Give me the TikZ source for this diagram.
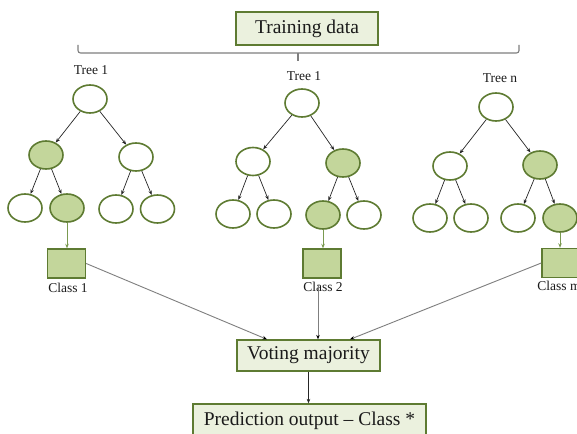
\documentclass[tikz,border=0pt]{standalone}
\usepackage{fontspec}
\setmainfont{Liberation Serif}
\usetikzlibrary{shapes.geometric,arrows.meta}
\definecolor{edgegreen}{HTML}{5E7B32}
\definecolor{fillgreen}{HTML}{C3D69B}
\definecolor{boxfill}{HTML}{EBF1DE}
\definecolor{linegray}{HTML}{7F7F7F}
\definecolor{leafline}{HTML}{7A9A50}
\definecolor{txt}{HTML}{1A1A1A}
\tikzset{
  nd/.style={ellipse,draw=edgegreen,line width=1.6pt,minimum width=34pt,minimum height=28pt,inner sep=0pt,fill=white},
  gnd/.style={nd,fill=fillgreen},
  sq/.style={rectangle,draw=edgegreen,line width=1.4pt,fill=fillgreen,minimum width=38pt,minimum height=29pt,inner sep=0pt},
  bigbox/.style={rectangle,draw=edgegreen,line width=1.3pt,fill=boxfill,inner sep=0pt,text=txt,font=\fontsize{19.5}{22}\selectfont},
  lbl/.style={text=txt,font=\fontsize{13.5}{16}\selectfont,inner sep=0pt},
  tedge/.style={draw=black!85,line width=0.7pt,-{Stealth[length=4.5pt,width=3.5pt]}},
  cedge/.style={draw=leafline,line width=0.9pt,-{Stealth[length=4.5pt,width=3.5pt]}},
  vedge/.style={draw=linegray,line width=0.9pt,-{Stealth[length=4.5pt,width=3.5pt,color=black]}}
}
\begin{document}
\begin{tikzpicture}[x=1pt,y=-1pt]
\clip (0,0) rectangle (577,433);
\fill[white] (0,0) rectangle (577,433);

% training data
\node[bigbox,minimum width=142pt,minimum height=33pt] (train) at (307,28.5) {Training data};
\draw[linegray,line width=1.1pt,rounded corners=2.5pt] (78,45) -- (78,53) -- (519,53) -- (519,45);
\draw[linegray,line width=1.1pt] (298,53) -- (298,61);

% tree 1
\node[lbl] (t1) at (91,70) {Tree 1};
\node[nd] (r1) at (90,99) {};
\node[gnd] (a1) at (46,155) {};
\node[nd] (b1) at (136,157) {};
\node[nd] (a11) at (25,208) {};
\node[gnd] (a12) at (67,208) {};
\node[nd] (b11) at (116,209) {};
\node[nd] (b12) at (157.5,209) {};
\node[sq] (c1) at (66.5,263.5) {};
\node[lbl] (l1) at (68,288) {Class 1};
\draw[tedge] (r1) -- (a1);
\draw[tedge] (r1) -- (b1);
\draw[tedge] (a1) -- (a11);
\draw[tedge] (a1) -- (a12);
\draw[tedge] (b1) -- (b11);
\draw[tedge] (b1) -- (b12);
\draw[cedge] (a12.south) -- (a12.south |- c1.north);

% tree 2
\node[lbl] (t2) at (304,76) {Tree 1};
\node[nd] (r2) at (302,103) {};
\node[nd] (a2) at (253,161.5) {};
\node[gnd] (b2) at (343,163) {};
\node[nd] (a21) at (233,214) {};
\node[nd] (a22) at (274,214) {};
\node[gnd] (b21) at (323,215) {};
\node[nd] (b22) at (364,215) {};
\node[sq] (c2) at (322,263.5) {};
\node[lbl] (l2) at (323,287) {Class 2};
\draw[tedge] (r2) -- (a2);
\draw[tedge] (r2) -- (b2);
\draw[tedge] (a2) -- (a21);
\draw[tedge] (a2) -- (a22);
\draw[tedge] (b2) -- (b21);
\draw[tedge] (b2) -- (b22);
\draw[cedge] (b21.south) -- (b21.south |- c2.north);

% tree n
\node[lbl] (t3) at (500,78) {Tree n};
\node[nd] (r3) at (496,107) {};
\node[nd] (a3) at (450,166) {};
\node[gnd] (b3) at (540,165) {};
\node[nd] (a31) at (430,218) {};
\node[nd] (a32) at (471,218) {};
\node[nd] (b31) at (518,218) {};
\node[gnd] (b32) at (560,218) {};
\node[sq] (c3) at (561,263) {};
\node[lbl] (l3) at (559,286) {Class m};
\draw[tedge] (r3) -- (a3);
\draw[tedge] (r3) -- (b3);
\draw[tedge] (a3) -- (a31);
\draw[tedge] (a3) -- (a32);
\draw[tedge] (b3) -- (b31);
\draw[tedge] (b3) -- (b32);
\draw[cedge] (b32.south) -- (b32.south |- c3.north);

% voting and prediction
\node[bigbox,minimum width=143pt,minimum height=31pt] (vote) at (308.5,355.5) {Voting majority};
\node[bigbox,minimum width=233pt,minimum height=34pt] (pred) at (309.5,421) {Prediction output -- Class *};
\draw[vedge] (c1.east) -- ([xshift=-41.5pt]vote.north);
\draw[vedge] ([xshift=9.5pt]vote.north |- l2.south) ++(0,7pt) -- ([xshift=9.5pt]vote.north);
\draw[vedge] (c3.west) -- ([xshift=41.5pt]vote.north);
\draw[-{Stealth[length=4.5pt,width=3.5pt]},black!85,line width=0.7pt] (vote.south) -- (vote.south |- pred.north);
\end{tikzpicture}
\end{document}
